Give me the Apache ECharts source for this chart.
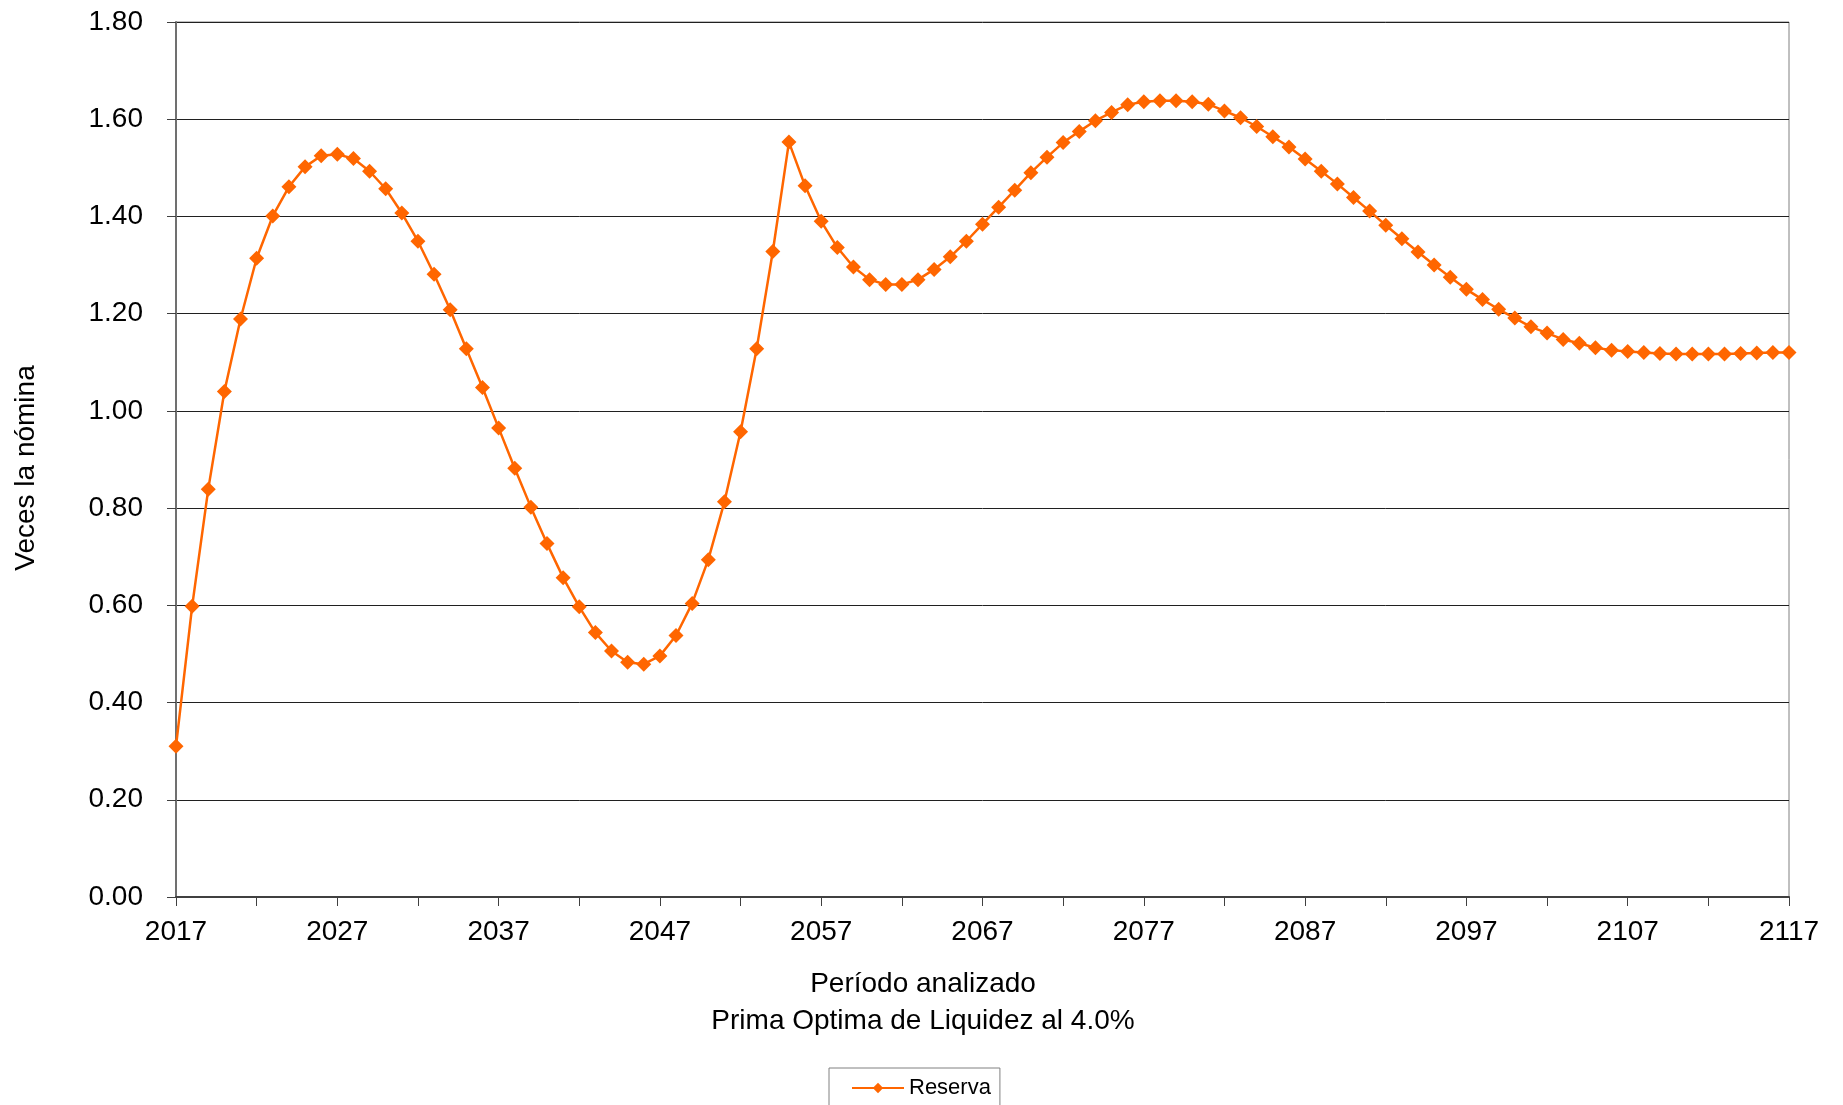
<!DOCTYPE html>
<html>
<head>
<meta charset="utf-8">
<script src="https://cdn.jsdelivr.net/npm/echarts@6/dist/echarts.min.js"></script>
<style>
html,body{margin:0;padding:0;background:#fff;}
#chart{width:1843px;height:1105px;}
</style>
</head>
<body>
<div id="chart"></div>
<script>
const years = [];
for (let y = 2017; y <= 2117; y++) years.push(String(y));

const reserva = [
  0.310, 0.598, 0.839, 1.040, 1.189, 1.314, 1.401, 1.461, 1.502, 1.525,
  1.528, 1.519, 1.493, 1.457, 1.407, 1.349, 1.281, 1.208, 1.128, 1.048,
  0.965, 0.882, 0.802, 0.727, 0.657, 0.597, 0.544, 0.506, 0.483, 0.479,
  0.496, 0.538, 0.604, 0.694, 0.813, 0.957, 1.128, 1.328, 1.553, 1.463,
  1.390, 1.336, 1.296, 1.270, 1.260, 1.260, 1.270, 1.291, 1.317, 1.349,
  1.384, 1.419, 1.454, 1.490, 1.522, 1.552, 1.575, 1.597, 1.614, 1.630,
  1.636, 1.638, 1.638, 1.636, 1.631, 1.617, 1.603, 1.585, 1.564, 1.543,
  1.518, 1.493, 1.467, 1.439, 1.411, 1.382, 1.354, 1.327, 1.300, 1.275,
  1.250, 1.229, 1.209, 1.191, 1.173, 1.160, 1.147, 1.139, 1.130, 1.125,
  1.122, 1.120, 1.118, 1.117, 1.117, 1.117, 1.117, 1.118, 1.119, 1.120,
  1.120
];

const seriesName = 'Reserva';
const yAxisTitle = 'Veces la nómina';
const xAxisTitle = 'Período analizado\nPrima Optima de Liquidez al 4.0%';

const FONT = 'Liberation Sans, Arial, sans-serif';
const chart = echarts.init(document.getElementById('chart'), null, {renderer: 'canvas'});
chart.setOption({
  animation: false,
  backgroundColor: '#ffffff',
  grid: {
    left: 176, right: 54, top: 22, bottom: 208,
    outerBoundsMode: 'none',
    containLabel: false,
    show: true, borderColor: '#808080', borderWidth: 1, backgroundColor: 'transparent'
  },
  legend: {
    data: [seriesName],
    left: 829, top: 1068,
    padding: [9, 9, 20, 22],
    borderColor: '#808080', borderWidth: 1,
    itemWidth: 52, itemHeight: 13, itemGap: 6,
    textStyle: {fontFamily: FONT, fontSize: 22, color: '#000'}
  },
  graphic: [
    {
      type: 'text', x: 923, y: 966, silent: true,
      style: {text: xAxisTitle, fontFamily: FONT, fontSize: 28, fill: '#000',
        align: 'center', verticalAlign: 'top', lineHeight: 37}
    },
    {
      type: 'text', x: 26, y: 468, rotation: Math.PI / 2, silent: true,
      style: {text: yAxisTitle, fontFamily: FONT, fontSize: 28, fill: '#000',
        align: 'center', verticalAlign: 'middle'}
    }
  ],
  xAxis: {
    type: 'category',
    data: years,
    boundaryGap: false,
    axisLine: {show: true, lineStyle: {color: '#404040', width: 2}},
    axisTick: {show: true, interval: 4, length: 9, inside: false, lineStyle: {color: '#404040', width: 1}},
    axisLabel: {interval: 9, fontFamily: FONT, fontSize: 28, color: '#000', margin: 21},
    splitLine: {show: false}
  },
  yAxis: {
    type: 'value',
    min: 0, max: 1.8, interval: 0.2,
    axisLine: {show: true, lineStyle: {color: '#707070', width: 2}},
    axisTick: {show: true, length: 9, inside: false, lineStyle: {color: '#404040', width: 1}},
    axisLabel: {fontFamily: FONT, fontSize: 28, color: '#000', margin: 33,
      formatter: v => v.toFixed(2)},
    splitLine: {show: true, lineStyle: {color: '#202020', width: 1}}
  },
  series: [{
    name: seriesName,
    type: 'line',
    data: reserva,
    symbol: 'diamond',
    symbolSize: 15,
    showAllSymbol: true,
    lineStyle: {color: '#FF6600', width: 2.5},
    itemStyle: {color: '#FF6600'},
    z: 5
  }]
});
</script>
</body>
</html>
